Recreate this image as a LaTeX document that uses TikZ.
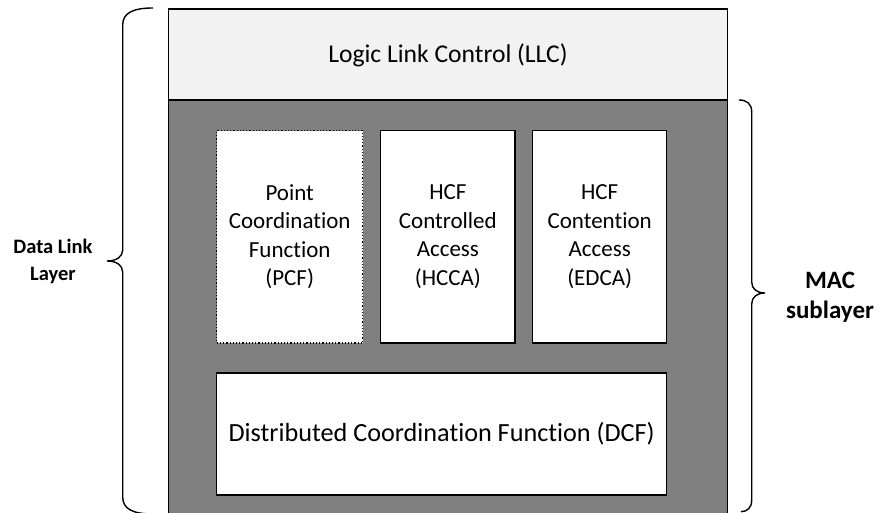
\documentclass[tikz,border=0pt]{standalone}
\usepackage{fontspec}
\setmainfont{Carlito}[Ligatures=NoCommon]
\definecolor{llcfill}{RGB}{242,242,242}
\definecolor{macfill}{RGB}{128,128,128}
\begin{document}
\begin{tikzpicture}[x=1pt,y=1pt,
  fn/.style={draw=black, fill=white, line width=1.2pt, align=center, inner sep=0pt,
    font=\fontsize{23}{28.5}\selectfont},
  brace/.style={draw=black, line width=1.4pt},
  bl/.style={align=center, font=\bfseries}]
\useasboundingbox (0,0) rectangle (878,513);
% outer layer
\fill[llcfill] (168.3,413) rectangle (727.7,504);
\fill[macfill] (168.3,-2) rectangle (727.7,413);
\draw[line width=1.2pt] (168.3,-2) -- (168.3,504) -- (727.7,504) -- (727.7,-2);
\draw[line width=1.2pt] (168.3,413) -- (727.7,413);
\node[font=\fontsize{25.6}{30}\selectfont] (llc) at (448,458) {Logic Link Control (LLC)};
% function boxes
\node[fn, dotted, minimum width=146pt, minimum height=212.3pt] (pcf) at (289.7,276.2)
  {Point\\Coordination\\Function\\(PCF)};
\node[fn, minimum width=134.3pt, minimum height=212.3pt] (hcca) at (447.85,276.2)
  {HCF\\Controlled\\Access\\(HCCA)};
\node[fn, minimum width=134pt, minimum height=212.3pt] (edca) at (599.7,276.2)
  {HCF\\Contention\\Access\\(EDCA)};
\node[fn, minimum width=450pt, minimum height=122pt, font=\fontsize{26.2}{30}\selectfont] (dcf) at (441.7,79)
  {Distributed Coordination Function (DCF)};
% braces
\draw[brace] (153,505) .. controls (133,505) and (122.7,500) .. (122.7,488)
  -- (122.7,263) .. controls (122.7,256) and (116,252) .. (107,252)
  .. controls (116,252) and (122.7,248) .. (122.7,241)
  -- (122.7,16) .. controls (122.7,4) and (133,-1) .. (153,-1);
\draw[brace] (739,413) .. controls (747,413) and (751.7,409) .. (751.7,401)
  -- (751.7,231) .. controls (751.7,224) and (757,220) .. (765,220)
  .. controls (757,220) and (751.7,216) .. (751.7,209)
  -- (751.7,13) .. controls (751.7,5) and (747,1.3) .. (741,1.3);
\node[bl, font=\bfseries\fontsize{20.5}{27}\selectfont] (dll) at (53,252) {Data Link\\Layer};
\node[bl, font=\bfseries\fontsize{25}{30}\selectfont] (mac) at (830,216) {MAC\\sublayer};
\end{tikzpicture}
\end{document}
